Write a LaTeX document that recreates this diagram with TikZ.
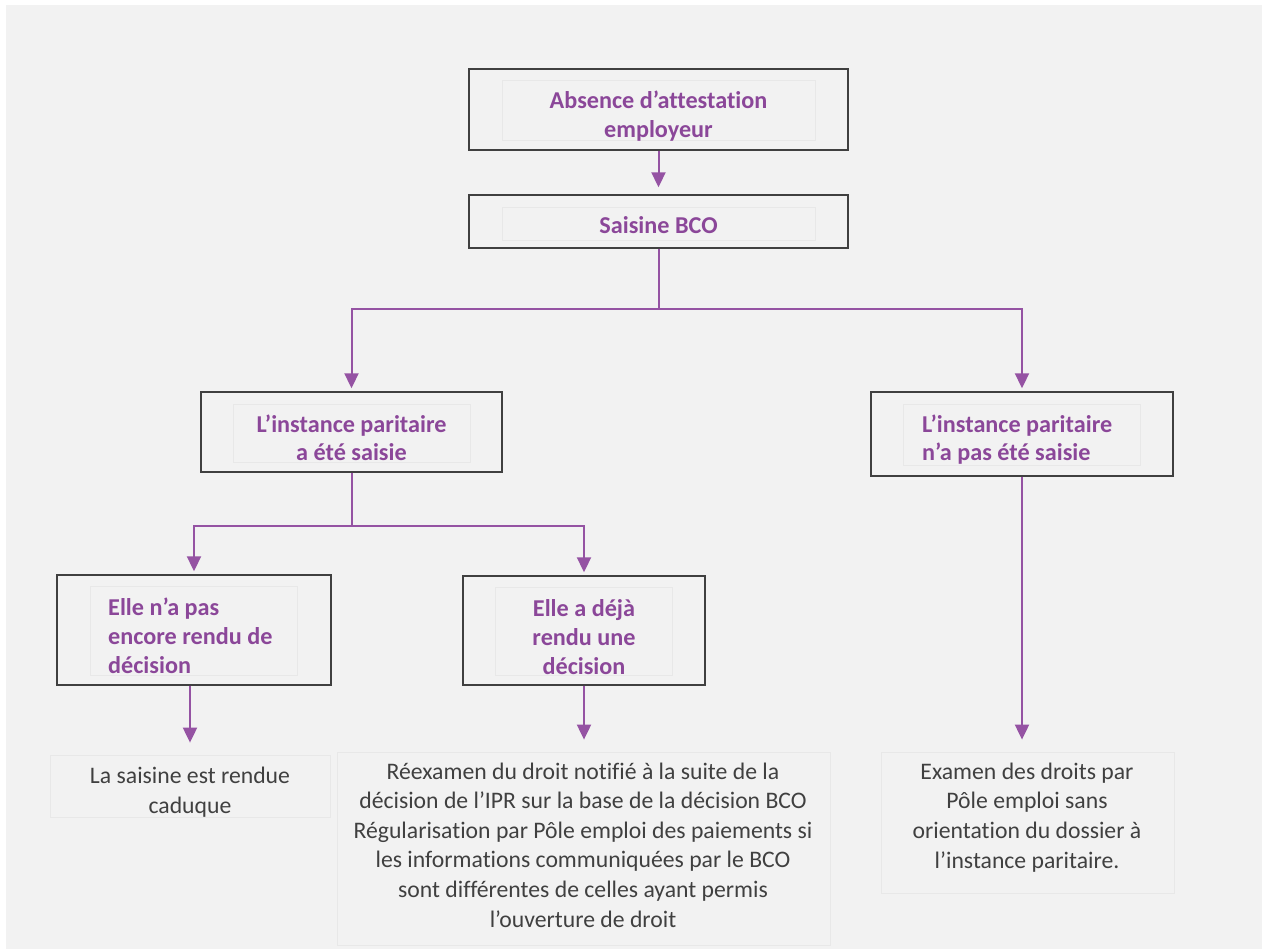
\documentclass[tikz,border=0pt]{standalone}
\usepackage{fontspec}
\setmainfont{Carlito}[Ligatures=NoCommon]
\usetikzlibrary{arrows.meta}
\definecolor{bgpanel}{HTML}{F2F2F2}
\definecolor{purp}{HTML}{8B4799}
\definecolor{purpline}{HTML}{9553A3}
\definecolor{txtgray}{HTML}{404040}
\definecolor{boxline}{HTML}{404040}
\definecolor{faint}{HTML}{E8E8E8}
\tikzset{
  mainbox/.style={draw=boxline, line width=1.4pt, inner sep=0pt},
  innerbox/.style={draw=faint, line width=0.8pt, inner sep=0pt},
  htxt/.style={font=\fontsize{24.2}{28.6}\selectfont\bfseries, text=purp, inner sep=0pt},
  btxt/.style={font=\fontsize{23.7}{29.6}\selectfont, text=txtgray, inner sep=0pt, align=center},
  conn/.style={draw=purpline, line width=2pt, -{Triangle[width=14pt,length=15pt]}},
  link/.style={draw=purpline, line width=2pt}
}
\begin{document}
\begin{tikzpicture}[x=1pt,y=-1pt]
\useasboundingbox (0,0) rectangle (1262,949);
\fill[white] (0,0) rectangle (1262,949);
\fill[bgpanel] (6,5) rectangle (1262,949);

% main boxes
\node[mainbox, minimum width=379pt, minimum height=81pt] (b1) at (658.5,109.5) {};
\node[innerbox, minimum width=313pt, minimum height=60pt] (i1) at (658.5,110) {};
\node[htxt, align=center, anchor=base] (t1) at (658.5,137.5) {Absence d’attestation\\employeur};

\node[mainbox, minimum width=379pt, minimum height=53pt] (b2) at (658.5,221.5) {};
\node[innerbox, minimum width=313pt, minimum height=33pt] (i2) at (658.5,223.5) {};
\node[htxt, anchor=base] (t2) at (658.5,234) {Saisine BCO};

\node[mainbox, minimum width=301pt, minimum height=80pt] (b3) at (351.5,432) {};
\node[innerbox, minimum width=237pt, minimum height=58pt] (i3) at (351.5,433) {};
\node[htxt, align=center, anchor=base] (t3) at (351.5,461) {L’instance paritaire\\a été saisie};

\node[mainbox, minimum width=302pt, minimum height=84pt] (b4) at (1022,434) {};
\node[innerbox, minimum width=237pt, minimum height=61pt] (i4) at (1021.5,434.5) {};
\node[htxt, align=left, anchor=base west] (t4) at (922,461) {L’instance paritaire\\n’a pas été saisie};

\node[mainbox, minimum width=274pt, minimum height=110pt] (b5) at (194,630) {};
\node[innerbox, minimum width=207pt, minimum height=89pt] (i5) at (193.5,630.5) {};
\node[htxt, align=left, anchor=base west] (t5) at (108,673) {Elle n’a pas\\encore rendu de\\décision};

\node[mainbox, minimum width=242pt, minimum height=109pt] (b6) at (584,630.5) {};
\node[innerbox, minimum width=177pt, minimum height=88pt] (i6) at (583.5,631) {};
\node[htxt, align=center, anchor=base] (t6) at (584,674) {Elle a déjà\\rendu une\\décision};

% result boxes (faint)
\node[innerbox, minimum width=280pt, minimum height=62pt] (r1) at (190,786) {};
\node[btxt, anchor=base] (rt1) at (190,813) {La saisine est rendue\\caduque};

\node[innerbox, minimum width=493pt, minimum height=193pt] (r2) at (583.5,848.5) {};
\node[btxt, anchor=base] (rt2) at (583,927) {Réexamen du droit notifié à la suite de la\\décision de l’IPR sur la base de la décision BCO\\Régularisation par Pôle emploi des paiements si\\les informations communiquées par le BCO\\sont différentes de celles ayant permis\\l’ouverture de droit};

\node[innerbox, minimum width=293pt, minimum height=141pt] (r3) at (1027.5,822.5) {};
\node[btxt, anchor=base] (rt3) at (1027,868) {Examen des droits par\\Pôle emploi sans\\orientation du dossier à\\l’instance paritaire.};

% junctions
\coordinate (j1) at (658.5,309);
\coordinate (j2) at (351.5,526);

% connectors
\draw[conn, shorten >=7pt] (b1.south) -- (b2.north);
\draw[link] (b2.south) -- (j1);
\draw[conn, shorten >=3pt] (j1) -| (b3.north);
\draw[conn, shorten >=3pt] (j1) -| (b4.north);
\draw[link] (b3.south) -- (j2);
\draw[conn, shorten >=3pt] (j2) -| (b5.north);
\draw[conn, shorten >=3pt] (j2) -| (b6.north);
\draw[conn, shorten >=12pt] (b5.south -| r1.north) -- (r1.north);
\draw[conn, shorten >=12pt] (b6.south) -- (b6.south |- r2.north);
\draw[conn, shorten >=12pt] (b4.south) -- (b4.south |- r3.north);
\end{tikzpicture}
\end{document}
